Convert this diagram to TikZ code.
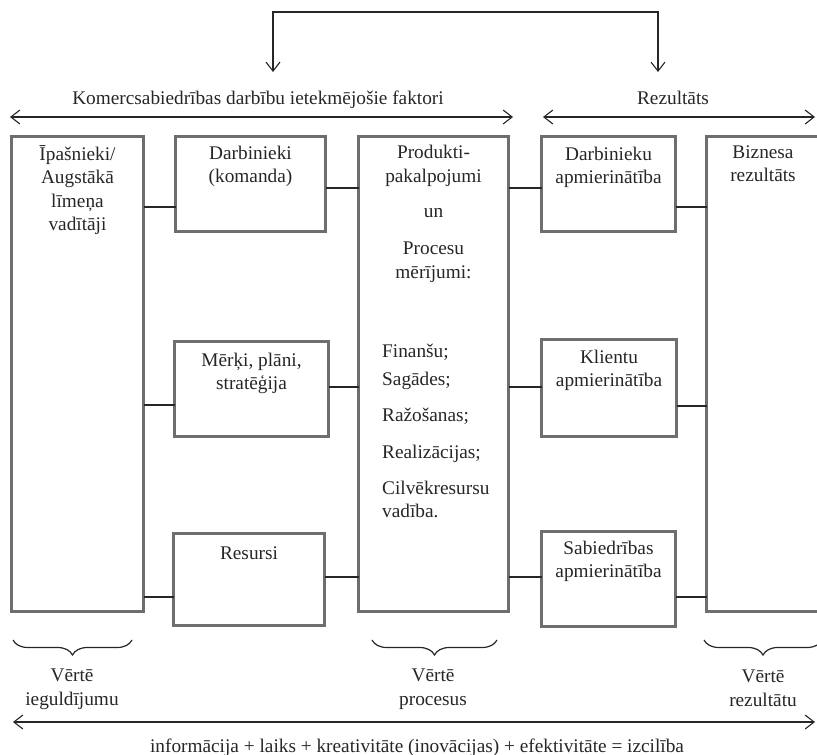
\documentclass[tikz,border=0pt]{standalone}
\usepackage{fontspec}
\setmainfont{Liberation Serif}
\usepackage{xcolor}
\usetikzlibrary{arrows.meta, positioning, decorations.pathreplacing}

\definecolor{boxgray}{HTML}{6E6E6E}
\definecolor{inkgray}{HTML}{262626}

\begin{document}
\begin{tikzpicture}[
    x=1pt, y=-1pt,
    font=\fontsize{19.3}{23.3}\selectfont,
    box/.style={draw=boxgray, line width=3pt, anchor=north west, inner sep=0pt, outer sep=0pt},
    boxtext/.style={align=center, inner sep=0pt, anchor=north, text=inkgray, execute at begin node=\strut},
    link/.style={draw=inkgray, line width=1.1pt},
    arrow/.style={draw=inkgray, line width=1.1pt, {Straight Barb[length=9pt,width=14pt]}-{Straight Barb[length=9pt,width=14pt]}},
    valbrace/.style={draw=inkgray, line width=1.2pt, decorate, decoration={brace, mirror, amplitude=15pt}},
]
    \useasboundingbox (0,0) rectangle (817,755);
    \clip (0,0) rectangle (817,755);

    % Boxes
    \node[box, minimum width=132, minimum height=475] (own) at (11.5,136.5) {};
    \node[box, minimum width=150, minimum height=95] (darb) at (175.5,136.5) {};
    \node[box, minimum width=154, minimum height=95] (merki) at (174.5,341.5) {};
    \node[box, minimum width=151, minimum height=92] (res) at (173.5,533.5) {};
    \node[box, minimum width=150, minimum height=475] (prod) at (358.5,136.5) {};
    \node[box, minimum width=134, minimum height=95] (darbapm) at (541.5,136.5) {};
    \node[box, minimum width=135, minimum height=97] (klient) at (541.5,339.5) {};
    \node[box, minimum width=134, minimum height=95] (sabiedr) at (541.5,531.5) {};
    \node[box, minimum width=113, minimum height=475] (bizn) at (706.5,136.5) {};

    % Box texts
    \node[boxtext, below=9pt of own.north] (owntxt) {Īpašnieki/\\Augstākā\\līmeņa\\vadītāji};
    \node[boxtext, below=9pt of darb.north] (darbtxt) {Darbinieki\\(komanda)};
    \node[boxtext, below=11pt of merki.north] (merkitxt) {Mērķi, plāni,\\stratēģija};
    \node[boxtext, below=9pt of res.north] (restxt) {Resursi};
    \node[boxtext, below=8pt of prod.north] (prodtxt) {Produkti-\\[1pt]pakalpojumi\\[12pt]un\\[14pt]Procesu\\mērījumi:};
    \node[boxtext, align=left, anchor=north west] (meas) at ([xshift=23.5pt, yshift=-207pt]prod.north west)
        {Finanšu;\\[5pt]Sagādes;\\[13pt]Ražošanas;\\[13pt]Realizācijas;\\[13pt]Cilvēkresursu\\vadība.};
    \node[boxtext, below=10pt of darbapm.north] (darbapmtxt) {Darbinieku\\apmierinātība};
    \node[boxtext, below=10pt of klient.north] (klienttxt) {Klientu\\apmierinātība};
    \node[boxtext, below=9pt of sabiedr.north] (sabiedrtxt) {Sabiedrības\\apmierinātība};
    \node[boxtext, below=9pt of bizn.north] (bizntxt) {Biznesa\\rezultāts};

    % Links between boxes
    \draw[link] (own.east |- 0,207) -- (darb.west |- 0,207);
    \draw[link] (own.east |- 0,405) -- (merki.west |- 0,405);
    \draw[link] (own.east |- 0,597) -- (res.west |- 0,597);
    \draw[link] (darb.east |- 0,188) -- (prod.west |- 0,188);
    \draw[link] (merki.east |- 0,387) -- (prod.west |- 0,387);
    \draw[link] (res.east |- 0,577) -- (prod.west |- 0,577);
    \draw[link] (prod.east |- 0,188) -- (darbapm.west |- 0,188);
    \draw[link] (prod.east |- 0,387) -- (klient.west |- 0,387);
    \draw[link] (prod.east |- 0,577) -- (sabiedr.west |- 0,577);
    \draw[link] (darbapm.east |- 0,207) -- (bizn.west |- 0,207);
    \draw[link] (klient.east |- 0,406) -- (bizn.west |- 0,406);
    \draw[link] (sabiedr.east |- 0,597) -- (bizn.west |- 0,597);

    % Headers
    \node[text=inkgray, anchor=base] (factors) at (258,104) {Komercsabiedrības darbību ietekmējošie faktori};
    \node[text=inkgray, anchor=base] (result) at (673,104) {Rezultāts};
    \draw[arrow] ([xshift=-1.5pt, yshift=19.5pt]own.north west) -- ([xshift=4.5pt, yshift=19.5pt]prod.north east);
    \draw[arrow] ([xshift=1.5pt, yshift=19.5pt]darbapm.north west) -- ([xshift=-4.5pt, yshift=19.5pt]bizn.north east);

    % Feedback loop on top
    \coordinate (ltip) at (273,72);
    \coordinate (rtip) at (658,72);
    \draw[arrow] (ltip) -- ++(0,-60) -| (rtip);

    % Braces
    \draw[valbrace] (13,640) -- (132,640);
    \draw[valbrace] (372,640) -- (497,640);
    \draw[valbrace] (704,640) -- (822,640);
    \node[boxtext] (valin) at (72,669) {Vērtē\\ieguldījumu};
    \node[boxtext] (valproc) at (433,669) {Vērtē\\procesus};
    \node[boxtext] (valres) at (763,670) {Vērtē\\rezultātu};

    % Bottom line
    \draw[arrow] ([xshift=1.5pt, yshift=-110.5pt]own.south west) -- ([xshift=-4.5pt, yshift=-110.5pt]bizn.south east);
    \node[text=inkgray, anchor=base] (excel) at (417,752) {informācija + laiks + kreativitāte (inovācijas) + efektivitāte = izcilība};
\end{tikzpicture}
\end{document}
